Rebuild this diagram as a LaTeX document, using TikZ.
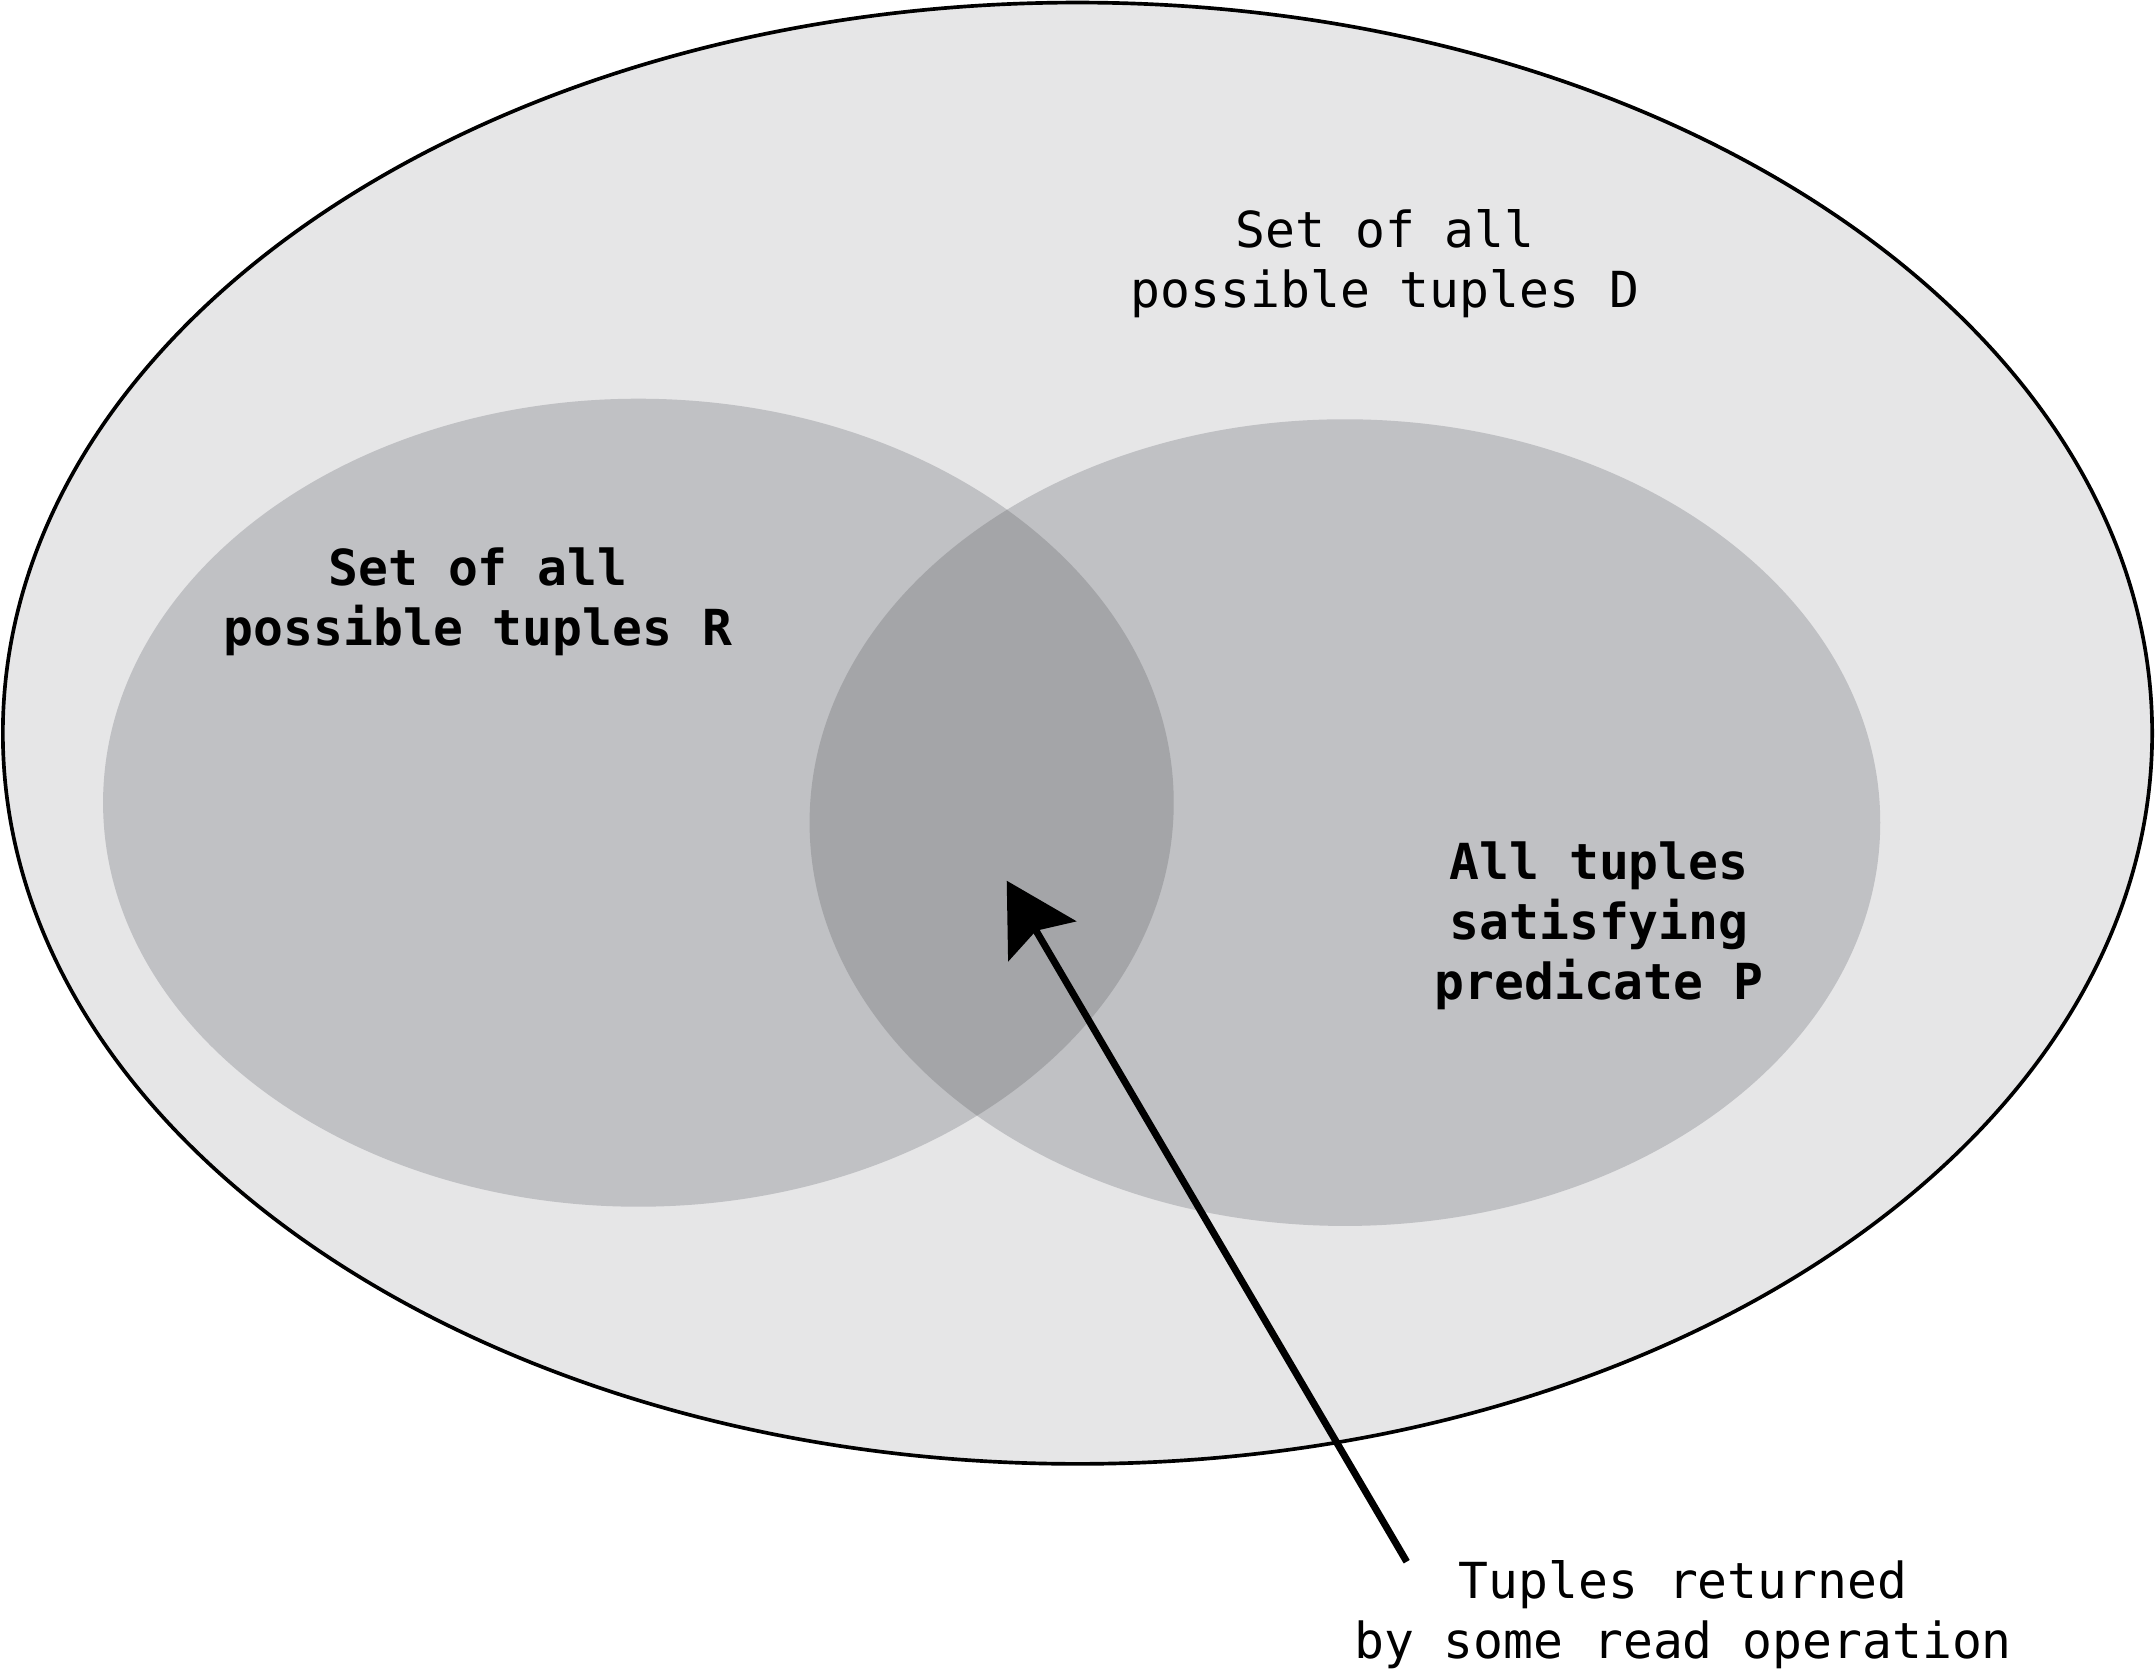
\documentclass[tikz,border=0pt]{standalone}
\usepackage{fontspec}
\setmonofont{DejaVu Sans Mono}
\usetikzlibrary{arrows.meta}

\definecolor{outerfill}{RGB}{230,230,231}
\definecolor{setfill}{RGB}{192,193,196}
\definecolor{overlapfill}{RGB}{164,165,168}

\tikzset{
  settext/.style={inner sep=0pt, align=center, anchor=base,
    font=\ttfamily\fontsize{14.9}{18}\selectfont},
  boldtext/.style={settext, font=\ttfamily\bfseries\fontsize{14.9}{18}\selectfont}
}

\begin{document}
\begin{tikzpicture}[x=0.3pt, y=-0.3pt]
    \useasboundingbox (0,0) rectangle (2155,1673);

    % universe D
    \draw[line width=1.1pt, fill=outerfill] (1077.5,733.2) ellipse [x radius=322.4pt, y radius=219.2pt];

    % R and P
    \fill[setfill] (638.4,802.7) ellipse [x radius=160.6pt, y radius=121.2pt];
    \fill[setfill] (1344.9,822.6) ellipse [x radius=160.6pt, y radius=121pt];
    \begin{scope}
        \clip (638.4,802.7) ellipse [x radius=160.6pt, y radius=121.2pt];
        \fill[overlapfill] (1344.9,822.6) ellipse [x radius=160.6pt, y radius=121pt];
    \end{scope}

    \node[settext] (dset) at (1385,307) {Set of all\\possible tuples D};
    \node[boldtext] (rset) at (478,645.5) {Set of all\\possible tuples R};
    \node[boldtext] (pset) at (1599,999) {All tuples\\satisfying\\predicate P};
    \node[settext] (returned) at (1683,1658) {Tuples returned\\by some read operation};

    \coordinate (tail) at (1406.7,1561.7);
    \coordinate (tip) at (1006.7,880.7);
    \draw[line width=2.1pt, -{Stealth[length=21pt, width=23.5pt, inset=3.6pt]}] (tail) -- (tip);

\end{tikzpicture}
\end{document}
